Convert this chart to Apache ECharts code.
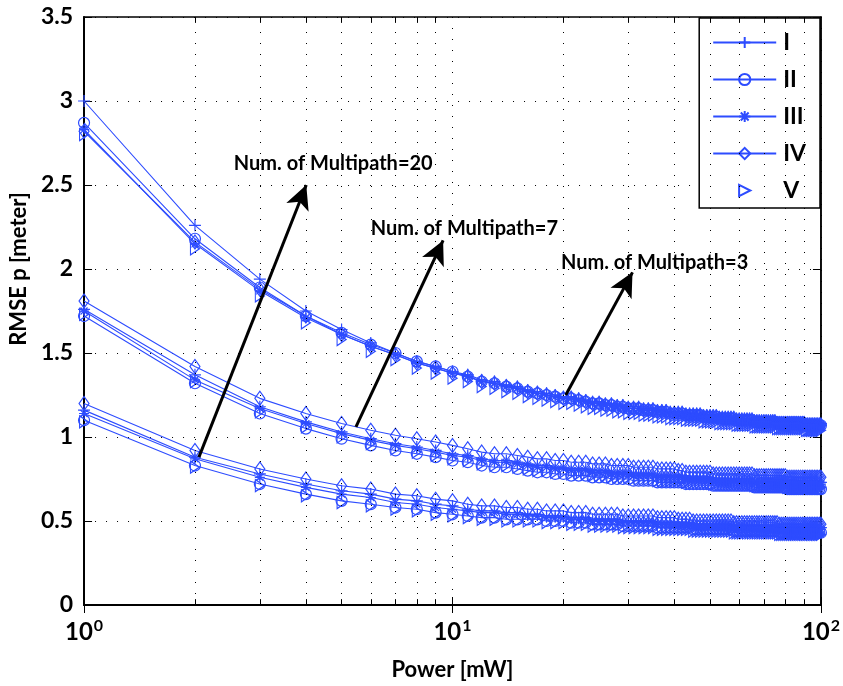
<!DOCTYPE html>
<html><head><meta charset="utf-8">
<script src="https://cdn.jsdelivr.net/npm/echarts@6/dist/echarts.min.js"></script>
<style>html,body{margin:0;padding:0;background:#fff}#c{width:843px;height:686px}</style>
</head><body><div id="c"></div>
<script>
// ---------- DATA ----------
const power = [1,2,3,4,5,6,7,8,9,10,11,12,13,14,15,16,17,18,19,20,21,22,23,24,25,26,27,28,29,30,31,32,33,34,35,36,37,38,39,40,41,42,43,44,45,46,47,48,49,50,51,52,53,54,55,56,57,58,59,60,61,62,63,64,65,66,67,68,69,70,71,72,73,74,75,76,77,78,79,80,81,82,83,84,85,86,87,88,89,90,91,92,93,94,95,96,97,98,99,100];
const seriesNames = ['I','II','III','IV','V'];
const xTickValues = [1,10,100];
const xMinorTicks = [2,3,4,5,6,7,8,9,20,30,40,50,60,70,80,90];
const yTickLabels = ['0','0.5','1','1.5','2','2.5','3','3.5'];

// Num. of Multipath = 20
const m20_I = [3.00,2.26,1.94,1.75,1.64,1.56,1.50,1.45,1.42,1.39,
1.37,1.34,1.33,1.31,1.30,1.28,1.27,1.26,1.25,1.24,
1.24,1.23,1.22,1.21,1.21,1.20,1.20,1.19,1.19,1.18,
1.18,1.18,1.17,1.17,1.17,1.16,1.16,1.16,1.15,1.15,
1.15,1.15,1.14,1.14,1.14,1.14,1.14,1.13,1.13,1.13,
1.13,1.13,1.12,1.12,1.12,1.12,1.12,1.12,1.11,1.11,
1.11,1.11,1.11,1.11,1.11,1.10,1.10,1.10,1.10,1.10,
1.10,1.10,1.10,1.10,1.10,1.09,1.09,1.09,1.09,1.09,
1.09,1.09,1.09,1.09,1.09,1.09,1.09,1.09,1.09,1.09,
1.08,1.08,1.08,1.08,1.08,1.08,1.08,1.08,1.08,1.08];
const m20_II = [2.87,2.18,1.89,1.72,1.62,1.55,1.50,1.45,1.42,1.39,
1.36,1.33,1.32,1.30,1.29,1.27,1.26,1.25,1.24,1.23,
1.23,1.22,1.21,1.20,1.20,1.19,1.19,1.18,1.18,1.17,
1.17,1.17,1.16,1.16,1.16,1.15,1.15,1.15,1.14,1.14,
1.14,1.14,1.13,1.13,1.13,1.13,1.13,1.12,1.12,1.12,
1.12,1.12,1.11,1.11,1.11,1.11,1.11,1.11,1.10,1.10,
1.10,1.10,1.10,1.10,1.10,1.09,1.09,1.09,1.09,1.09,
1.09,1.09,1.09,1.09,1.09,1.08,1.08,1.08,1.08,1.08,
1.08,1.08,1.08,1.08,1.08,1.08,1.08,1.08,1.08,1.08,
1.07,1.07,1.07,1.07,1.07,1.07,1.07,1.07,1.07,1.07];
const m20_III = [2.83,2.15,1.87,1.71,1.61,1.54,1.49,1.44,1.41,1.38,
1.36,1.33,1.32,1.30,1.29,1.27,1.26,1.25,1.24,1.23,
1.23,1.22,1.21,1.20,1.20,1.19,1.19,1.18,1.18,1.17,
1.17,1.17,1.16,1.16,1.16,1.15,1.15,1.15,1.14,1.14,
1.14,1.14,1.13,1.13,1.13,1.13,1.13,1.12,1.12,1.12,
1.12,1.12,1.11,1.11,1.11,1.11,1.11,1.11,1.10,1.10,
1.10,1.10,1.10,1.10,1.10,1.09,1.09,1.09,1.09,1.09,
1.09,1.09,1.09,1.09,1.09,1.08,1.08,1.08,1.08,1.08,
1.08,1.08,1.08,1.08,1.08,1.08,1.08,1.08,1.08,1.08,
1.07,1.07,1.07,1.07,1.07,1.07,1.07,1.07,1.07,1.07];
const m20_IV = [2.82,2.16,1.88,1.72,1.61,1.54,1.49,1.44,1.41,1.38,
1.36,1.33,1.32,1.30,1.29,1.27,1.26,1.25,1.24,1.23,
1.23,1.22,1.21,1.20,1.20,1.19,1.19,1.18,1.18,1.17,
1.17,1.17,1.16,1.16,1.16,1.15,1.15,1.15,1.14,1.14,
1.14,1.14,1.13,1.13,1.13,1.13,1.13,1.12,1.12,1.12,
1.12,1.12,1.11,1.11,1.11,1.11,1.11,1.11,1.10,1.10,
1.10,1.10,1.10,1.10,1.10,1.09,1.09,1.09,1.09,1.09,
1.09,1.09,1.09,1.09,1.09,1.08,1.08,1.08,1.08,1.08,
1.08,1.08,1.08,1.08,1.08,1.08,1.08,1.08,1.08,1.08,
1.07,1.07,1.07,1.07,1.07,1.07,1.07,1.07,1.07,1.07];
const m20_V = [2.80,2.12,1.84,1.68,1.58,1.51,1.46,1.41,1.38,1.35,
1.33,1.30,1.29,1.27,1.26,1.24,1.23,1.22,1.21,1.20,
1.20,1.19,1.18,1.17,1.17,1.16,1.16,1.15,1.15,1.14,
1.14,1.14,1.13,1.13,1.13,1.12,1.12,1.12,1.11,1.11,
1.11,1.11,1.10,1.10,1.10,1.10,1.10,1.09,1.09,1.09,
1.09,1.09,1.08,1.08,1.08,1.08,1.08,1.08,1.07,1.07,
1.07,1.07,1.07,1.07,1.07,1.06,1.06,1.06,1.06,1.06,
1.06,1.06,1.06,1.06,1.06,1.05,1.05,1.05,1.05,1.05,
1.05,1.05,1.05,1.05,1.05,1.05,1.05,1.05,1.05,1.05,
1.04,1.04,1.04,1.04,1.04,1.04,1.04,1.04,1.04,1.04];

// Num. of Multipath = 7
const m7_I = [1.76,1.37,1.18,1.09,1.03,0.99,0.96,0.94,0.92,0.90,
0.89,0.87,0.86,0.86,0.85,0.84,0.83,0.83,0.82,0.82,
0.81,0.81,0.81,0.80,0.80,0.80,0.79,0.79,0.79,0.79,
0.78,0.78,0.78,0.78,0.78,0.77,0.77,0.77,0.77,0.77,
0.77,0.77,0.76,0.76,0.76,0.76,0.76,0.76,0.76,0.76,
0.75,0.75,0.75,0.75,0.75,0.75,0.75,0.75,0.75,0.75,
0.75,0.75,0.75,0.75,0.75,0.74,0.74,0.74,0.74,0.74,
0.74,0.74,0.74,0.74,0.74,0.74,0.74,0.74,0.74,0.74,
0.73,0.73,0.73,0.73,0.73,0.73,0.73,0.73,0.73,0.73,
0.73,0.73,0.73,0.73,0.73,0.73,0.73,0.73,0.73,0.73];
const m7_II = [1.72,1.32,1.14,1.05,0.99,0.95,0.92,0.90,0.88,0.86,
0.85,0.83,0.82,0.82,0.81,0.80,0.79,0.79,0.78,0.78,
0.77,0.77,0.77,0.76,0.76,0.76,0.75,0.75,0.75,0.75,
0.74,0.74,0.74,0.74,0.74,0.73,0.73,0.73,0.73,0.73,
0.73,0.73,0.72,0.72,0.72,0.72,0.72,0.72,0.72,0.72,
0.71,0.71,0.71,0.71,0.71,0.71,0.71,0.71,0.71,0.71,
0.71,0.71,0.71,0.71,0.71,0.70,0.70,0.70,0.70,0.70,
0.70,0.70,0.70,0.70,0.70,0.70,0.70,0.70,0.70,0.70,
0.69,0.69,0.69,0.69,0.69,0.69,0.69,0.69,0.69,0.69,
0.69,0.69,0.69,0.69,0.69,0.69,0.69,0.69,0.69,0.69];
const m7_III = [1.75,1.34,1.17,1.08,1.02,0.98,0.95,0.93,0.91,0.89,
0.88,0.86,0.85,0.85,0.84,0.83,0.82,0.82,0.81,0.81,
0.80,0.80,0.80,0.79,0.79,0.79,0.78,0.78,0.78,0.78,
0.77,0.77,0.77,0.77,0.77,0.76,0.76,0.76,0.76,0.76,
0.76,0.76,0.75,0.75,0.75,0.75,0.75,0.75,0.75,0.75,
0.74,0.74,0.74,0.74,0.74,0.74,0.74,0.74,0.74,0.74,
0.74,0.74,0.74,0.74,0.74,0.73,0.73,0.73,0.73,0.73,
0.73,0.73,0.73,0.73,0.73,0.73,0.73,0.73,0.73,0.73,
0.72,0.72,0.72,0.72,0.72,0.72,0.72,0.72,0.72,0.72,
0.72,0.72,0.72,0.72,0.72,0.72,0.72,0.72,0.72,0.72];
const m7_IV = [1.81,1.42,1.23,1.14,1.08,1.04,1.01,0.99,0.97,0.95,
0.93,0.91,0.90,0.90,0.89,0.88,0.87,0.87,0.86,0.86,
0.85,0.85,0.85,0.84,0.84,0.84,0.83,0.83,0.83,0.83,
0.82,0.82,0.82,0.82,0.82,0.81,0.81,0.81,0.81,0.81,
0.80,0.80,0.79,0.79,0.79,0.79,0.79,0.79,0.79,0.79,
0.78,0.78,0.78,0.78,0.78,0.78,0.78,0.78,0.78,0.78,
0.78,0.78,0.78,0.78,0.78,0.77,0.77,0.77,0.77,0.77,
0.77,0.77,0.77,0.77,0.77,0.77,0.77,0.77,0.77,0.77,
0.76,0.76,0.76,0.76,0.76,0.76,0.76,0.76,0.76,0.76,
0.76,0.76,0.76,0.76,0.76,0.76,0.76,0.76,0.76,0.76];
const m7_V = [1.73,1.33,1.15,1.06,1.00,0.96,0.93,0.91,0.89,0.87,
0.86,0.84,0.83,0.83,0.82,0.81,0.80,0.80,0.79,0.79,
0.78,0.78,0.78,0.77,0.77,0.77,0.76,0.76,0.76,0.76,
0.75,0.75,0.75,0.75,0.75,0.74,0.74,0.74,0.74,0.74,
0.74,0.74,0.73,0.73,0.73,0.73,0.73,0.73,0.73,0.73,
0.72,0.72,0.72,0.72,0.72,0.72,0.72,0.72,0.72,0.72,
0.72,0.72,0.72,0.72,0.72,0.71,0.71,0.71,0.71,0.71,
0.71,0.71,0.71,0.71,0.71,0.71,0.71,0.71,0.71,0.71,
0.70,0.70,0.70,0.70,0.70,0.70,0.70,0.70,0.70,0.70,
0.70,0.70,0.70,0.70,0.70,0.70,0.70,0.70,0.70,0.70];

// Num. of Multipath = 3
const m3_I = [1.16,0.88,0.78,0.72,0.68,0.66,0.63,0.62,0.60,0.59,
0.57,0.56,0.56,0.55,0.55,0.54,0.54,0.53,0.53,0.53,
0.52,0.52,0.52,0.51,0.51,0.51,0.51,0.51,0.50,0.50,
0.50,0.50,0.50,0.50,0.50,0.49,0.49,0.49,0.49,0.49,
0.49,0.49,0.49,0.49,0.48,0.48,0.48,0.48,0.48,0.48,
0.48,0.48,0.48,0.48,0.48,0.48,0.48,0.47,0.47,0.47,
0.47,0.47,0.47,0.47,0.47,0.47,0.47,0.47,0.47,0.47,
0.47,0.47,0.47,0.47,0.47,0.47,0.46,0.46,0.46,0.46,
0.46,0.46,0.46,0.46,0.46,0.46,0.46,0.46,0.46,0.46,
0.46,0.46,0.46,0.46,0.46,0.46,0.46,0.46,0.46,0.46];
const m3_II = [1.10,0.83,0.72,0.66,0.62,0.60,0.58,0.57,0.55,0.54,
0.53,0.52,0.52,0.51,0.51,0.51,0.51,0.50,0.50,0.50,
0.49,0.49,0.49,0.48,0.48,0.48,0.48,0.48,0.47,0.47,
0.47,0.47,0.47,0.47,0.47,0.46,0.46,0.46,0.46,0.46,
0.46,0.46,0.46,0.46,0.45,0.45,0.45,0.45,0.45,0.45,
0.45,0.45,0.45,0.45,0.45,0.45,0.45,0.44,0.44,0.44,
0.44,0.44,0.44,0.44,0.44,0.44,0.44,0.44,0.44,0.44,
0.44,0.44,0.44,0.44,0.44,0.44,0.43,0.43,0.43,0.43,
0.43,0.43,0.43,0.43,0.43,0.43,0.43,0.43,0.43,0.43,
0.43,0.43,0.43,0.43,0.43,0.43,0.43,0.43,0.43,0.43];
const m3_III = [1.14,0.87,0.76,0.70,0.66,0.64,0.61,0.60,0.58,0.57,
0.56,0.55,0.55,0.54,0.54,0.53,0.53,0.52,0.52,0.52,
0.51,0.51,0.51,0.50,0.50,0.50,0.50,0.50,0.49,0.49,
0.49,0.49,0.49,0.49,0.49,0.48,0.48,0.48,0.48,0.48,
0.48,0.48,0.48,0.48,0.47,0.47,0.47,0.47,0.47,0.47,
0.47,0.47,0.47,0.47,0.47,0.47,0.47,0.46,0.46,0.46,
0.46,0.46,0.46,0.46,0.46,0.46,0.46,0.46,0.46,0.46,
0.46,0.46,0.46,0.46,0.46,0.46,0.45,0.45,0.45,0.45,
0.45,0.45,0.45,0.45,0.45,0.45,0.45,0.45,0.45,0.45,
0.45,0.45,0.45,0.45,0.45,0.45,0.45,0.45,0.45,0.45];
const m3_IV = [1.20,0.92,0.81,0.75,0.71,0.69,0.66,0.65,0.63,0.62,
0.60,0.59,0.59,0.58,0.58,0.57,0.57,0.56,0.56,0.56,
0.55,0.55,0.55,0.54,0.54,0.54,0.54,0.54,0.53,0.53,
0.53,0.53,0.53,0.53,0.53,0.52,0.52,0.52,0.52,0.52,
0.51,0.51,0.51,0.51,0.50,0.50,0.50,0.50,0.50,0.50,
0.50,0.50,0.50,0.50,0.50,0.50,0.50,0.49,0.49,0.49,
0.49,0.49,0.49,0.49,0.49,0.49,0.49,0.49,0.49,0.49,
0.49,0.49,0.49,0.49,0.49,0.49,0.48,0.48,0.48,0.48,
0.48,0.48,0.48,0.48,0.48,0.48,0.48,0.48,0.48,0.48,
0.48,0.48,0.48,0.48,0.48,0.48,0.48,0.48,0.48,0.48];
const m3_V = [1.09,0.82,0.71,0.65,0.61,0.59,0.57,0.56,0.54,0.53,
0.52,0.51,0.51,0.50,0.50,0.50,0.50,0.49,0.49,0.49,
0.48,0.48,0.48,0.47,0.47,0.47,0.47,0.47,0.46,0.46,
0.46,0.46,0.46,0.46,0.46,0.45,0.45,0.45,0.45,0.45,
0.45,0.45,0.45,0.45,0.44,0.44,0.44,0.44,0.44,0.44,
0.44,0.44,0.44,0.44,0.44,0.44,0.44,0.43,0.43,0.43,
0.43,0.43,0.43,0.43,0.43,0.43,0.43,0.43,0.43,0.43,
0.43,0.43,0.43,0.43,0.43,0.43,0.42,0.42,0.42,0.42,
0.42,0.42,0.42,0.42,0.42,0.42,0.42,0.42,0.42,0.42,
0.42,0.42,0.42,0.42,0.42,0.42,0.42,0.42,0.42,0.42];

// annotations (data space)
const annotTexts = ['Num. of Multipath=20','Num. of Multipath=7','Num. of Multipath=3'];
const annotTextX = [2.55, 6.0, 19.7];
const annotTextY = [2.63, 2.24, 2.04];
const arrowStartX = [2.05, 5.47, 20.3];
const arrowStartY = [0.88, 1.06, 1.25];
const arrowEndX = [4.01, 9.43, 30.8];
const arrowEndY = [2.50, 2.17, 1.98];

// ---------- CHART ----------
const BLUE = '#2d4cff';
const FONT = "Lato,'Open Sans',sans-serif";
const symbolDefs = {
  'I':   {symbol:'path://M5 0L5 10M0 5L10 5', size:[12,12]},
  'II':  {symbol:'circle', size:11},
  'III': {symbol:'path://M5 0L5 10M0 5L10 5M1.5 1.5L8.5 8.5M8.5 1.5L1.5 8.5', size:[10,10]},
  'IV':  {symbol:'path://M5 0L10 7L5 14L0 7Z', size:[10,14]},
  'V':   {symbol:'path://M0 0L9 6L0 12Z', size:[9,12]}
};
const groups = [
  [m20_I, m20_II, m20_III, m20_IV, m20_V],
  [m7_I, m7_II, m7_III, m7_IV, m7_V],
  [m3_I, m3_II, m3_III, m3_IV, m3_V]
];
const series = [];
groups.forEach(g => {
  g.forEach((vals, i) => {
    const name = seriesNames[i];
    const d = symbolDefs[name];
    series.push({
      type:'line', name: name,
      data: power.map((x,k)=>[x, vals[k]]),
      symbol: d.symbol, symbolSize: d.size, showAllSymbol: true,
      itemStyle: {color:'none', borderColor: BLUE, borderWidth: 1.2},
      lineStyle: {color: BLUE, width: 1.1, opacity: name==='V' ? 0 : 1},
      emphasis: {disabled: true}, silent: true, z: 3
    });
  });
});
// minor grid lines & ticks
series.push({
  type:'line', name:'grid', data:[], silent:true, z:1,
  markLine: {
    silent:true, symbol:['none','none'], label:{show:false}, animation:false,
    lineStyle:{color:'#000', width:1, type:[1,10]},
    data: xMinorTicks.map(v => ({xAxis: v}))
  }
});
series.push({
  type:'line', name:'ticks', data:[], silent:true, z:4,
  markLine: {
    silent:true, symbol:['none','none'], label:{show:false}, animation:false,
    lineStyle:{color:'#000', width:1, type:'solid'},
    data: xMinorTicks.map(v => [{coord:[v,0]},{coord:[v,0.035]}])
      .concat(xMinorTicks.map(v => [{coord:[v,3.5]},{coord:[v,3.465]}]))
  }
});
// annotations
series.push({
  type:'scatter', name:'annot', silent:true, z:6,
  data: annotTexts.map((t,i)=>[annotTextX[i], annotTextY[i]]),
  symbolSize: 0,
  itemStyle: {opacity: 1},
  label: {show:true, position:'right', distance:0, color:'#000', opacity:1,
    textBorderWidth:0,
    fontFamily: FONT, fontWeight:'bold', fontSize:20,
    formatter: p => annotTexts[p.dataIndex]},
  markLine: {
    silent:true, symbol:['none','arrow'], symbolSize:[18,24], label:{show:false}, animation:false,
    lineStyle:{color:'#000', width:3, type:'solid', opacity:1},
    itemStyle:{color:'#000', opacity:1},
    data: annotTexts.map((t,i)=>[{coord:[arrowStartX[i], arrowStartY[i]]},{coord:[arrowEndX[i], arrowEndY[i]]}])
  }
});

const chart = echarts.init(document.getElementById('c'), null, {renderer:'canvas', width:843, height:686});
chart.setOption({
  animation:false,
  backgroundColor:'#fff',
  textStyle:{fontFamily: FONT},
  grid:{left:81, right:19, top:17, bottom:74, show:true, borderColor:'#000', borderWidth:1.5, backgroundColor:'#fff'},
  legend:{
    data: seriesNames, orient:'vertical', right:23, top:18,
    backgroundColor:'#fff', borderColor:'#000', borderWidth:1.5, borderRadius:0,
    padding:[13,14,6,13], itemWidth:63, itemHeight:14, itemGap:14, selectedMode:false,
    textStyle:{fontFamily:FONT, fontWeight:'bold', fontSize:23, color:'#000', lineHeight:22, padding:[0,0,0,2]}
  },
  xAxis:[{
    type:'log', logBase:10, min:1, max:100,
    axisLine:{lineStyle:{color:'#000', width:2}},
    axisTick:{inside:true, length:8, lineStyle:{color:'#000', width:1}},
    splitLine:{show:true, lineStyle:{color:'#000', width:1, type:[1,10]}},
    axisLabel:{
      margin:13, color:'#000',
      formatter: v => '{b|10}{s|' + Math.round(Math.log10(v)) + '}',
      rich:{ b:{fontFamily:FONT, fontWeight:'bold', fontSize:24, color:'#000', lineHeight:28},
             s:{fontFamily:FONT, fontWeight:'bold', fontSize:16, color:'#000', verticalAlign:'top', lineHeight:14, padding:[0,0,16,1]} }
    },
    name:'Power [mW]', nameLocation:'middle', nameGap:54,
    nameTextStyle:{fontFamily:FONT, fontWeight:'bold', fontSize:22, color:'#000'}
  },{
    type:'log', logBase:10, min:1, max:100, position:'top',
    axisLine:{lineStyle:{color:'#000', width:1.5}},
    axisTick:{inside:true, length:8, lineStyle:{color:'#000'}},
    axisLabel:{show:false}, splitLine:{show:false}
  }],
  yAxis:[{
    type:'value', min:0, max:3.5, interval:0.5,
    axisLine:{show:true, lineStyle:{color:'#000', width:2}},
    axisTick:{show:true, inside:true, length:8, lineStyle:{color:'#000'}},
    splitLine:{show:true, lineStyle:{color:'#000', width:1, type:[1,10]}},
    axisLabel:{margin:11, color:'#000', fontFamily:FONT, fontWeight:'bold', fontSize:23,
      formatter: (v, idx) => yTickLabels[idx]},
    name:'RMSE p [meter]', nameLocation:'middle', nameGap:46,
    nameTextStyle:{fontFamily:FONT, fontWeight:'bold', fontSize:22, color:'#000', padding:[0,0,0,84]}
  },{
    type:'value', min:0, max:3.5, interval:0.5, position:'right',
    axisLine:{show:true, lineStyle:{color:'#000', width:1.5}},
    axisTick:{show:true, inside:true, length:8, lineStyle:{color:'#000'}},
    axisLabel:{show:false}, splitLine:{show:false}
  }],
  series: series
});
</script></body></html>
